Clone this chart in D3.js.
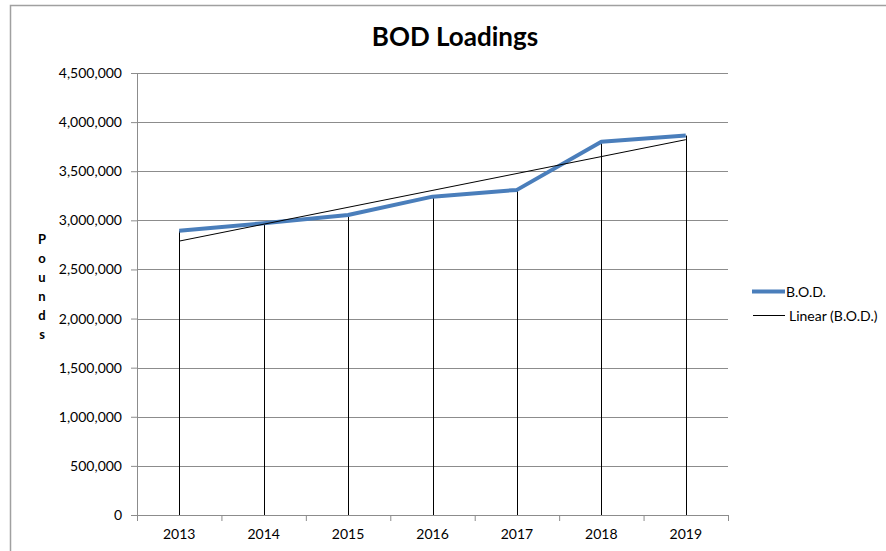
<!DOCTYPE html>
<html>
<head>
<meta charset="utf-8">
<script src="https://cdn.jsdelivr.net/npm/d3@7"></script>
<style>
  body { margin: 0; background: #fff; }
  svg text { font-family: Lato, "Open Sans", sans-serif; }
</style>
</head>
<body>
<div id="graph"></div>
<script>
// chart data
let years = ["2013", "2014", "2015", "2016", "2017", "2018", "2019"];
let bodValues = [2895000, 2970000, 3055000, 3241000, 3310000, 3800000, 3863000];
let yTicks = [0, 500000, 1000000, 1500000, 2000000, 2500000, 3000000, 3500000, 4000000, 4500000];
let seriesName = "B.O.D.";
let trendName = "Linear (B.O.D.)";

let margin = { top: 73, left: 137 },
  width = 728 - 137,
  height = 515 - 73;

let svg = d3
  .select("#graph")
  .append("svg")
  .attr("width", 886)
  .attr("height", 551);

// outer chart frame (right/bottom edges fall outside the window)
svg
  .append("rect")
  .attr("x", 10.5)
  .attr("y", 5.5)
  .attr("width", 1000)
  .attr("height", 1000)
  .attr("fill", "none")
  .attr("stroke", "#a0a0a0")
  .attr("stroke-width", 1.5);

// title
svg
  .append("text")
  .attr("x", 455)
  .attr("y", 46)
  .attr("text-anchor", "middle")
  .style("font-size", "26px")
  .style("font-weight", "bold")
  .text("BOD Loadings");

let g = svg
  .append("g")
  .attr("transform", "translate(" + margin.left + "," + margin.top + ")");

let x = d3.scaleBand().domain(years).range([0, width]);
let y = d3.scaleLinear().domain([0, 4500000]).range([height, 0]);

// gridlines
g.append("g")
  .selectAll("line")
  .data(yTicks.slice(1))
  .enter()
  .append("line")
  .attr("x1", 0)
  .attr("x2", width)
  .attr("y1", (d) => Math.round(y(d)) + 0.5)
  .attr("y2", (d) => Math.round(y(d)) + 0.5)
  .attr("stroke", "#8c8c8c")
  .attr("stroke-width", 1);

// y axis
let yAxis = g
  .append("g")
  .call(d3.axisLeft(y).tickValues(yTicks).tickSize(6).tickFormat(d3.format(",")));
yAxis.selectAll("path, line").attr("stroke", "#8c8c8c");
yAxis
  .selectAll("text")
  .attr("x", -15)
  .style("font-size", "14px")
  .style("fill", "#000");

// x axis, ticks on category boundaries
let xAxis = g
  .append("g")
  .attr("transform", "translate(0," + height + ")")
  .call(d3.axisBottom(x).tickSize(0));
xAxis.select(".domain").attr("stroke", "#8c8c8c");
xAxis.selectAll("text").attr("dy", "1.5em").style("font-size", "14px").style("fill", "#000");
xAxis
  .append("g")
  .selectAll("line")
  .data(years.concat([null]))
  .enter()
  .append("line")
  .attr("x1", (d, i) => i * x.bandwidth() + 0.5)
  .attr("x2", (d, i) => i * x.bandwidth() + 0.5)
  .attr("y1", 0)
  .attr("y2", 6)
  .attr("stroke", "#8c8c8c");

let cx = (d) => x(d) + x.bandwidth() / 2;

// drop lines
g.append("g")
  .selectAll("line")
  .data(years)
  .enter()
  .append("line")
  .attr("x1", (d) => Math.round(cx(d)) + 0.5)
  .attr("x2", (d) => Math.round(cx(d)) + 0.5)
  .attr("y1", (d, i) => y(bodValues[i]))
  .attr("y2", height)
  .attr("stroke", "#000")
  .attr("stroke-width", 1);

// series line
let line = d3
  .line()
  .x((d, i) => cx(years[i]))
  .y((d) => y(d));
g.append("path")
  .datum(bodValues)
  .attr("d", line)
  .attr("fill", "none")
  .attr("stroke", "#4a7ebb")
  .attr("stroke-width", 4)
  .attr("stroke-linejoin", "round");

// linear trendline (least squares over category index)
let n = bodValues.length;
let xs = d3.range(1, n + 1);
let mx = d3.mean(xs),
  my = d3.mean(bodValues);
let slope =
  d3.sum(xs, (v, i) => (v - mx) * (bodValues[i] - my)) /
  d3.sum(xs, (v) => (v - mx) * (v - mx));
let icpt = my - slope * mx;
g.append("line")
  .attr("x1", cx(years[0]))
  .attr("y1", y(icpt + slope * 1))
  .attr("x2", cx(years[n - 1]))
  .attr("y2", y(icpt + slope * n))
  .attr("stroke", "#000")
  .attr("stroke-width", 1);

// y axis title, letters stacked
let letters = "Pounds".split("");
svg
  .append("g")
  .selectAll("text")
  .data(letters)
  .enter()
  .append("text")
  .attr("x", 42)
  .attr("y", (d, i) => 244 + i * 19)
  .attr("text-anchor", "middle")
  .style("font-size", "13px")
  .style("font-weight", "bold")
  .text((d) => d);

// legend
let legend = svg.append("g");
legend
  .append("line")
  .attr("x1", 752)
  .attr("x2", 785)
  .attr("y1", 291.5)
  .attr("y2", 291.5)
  .attr("stroke", "#4a7ebb")
  .attr("stroke-width", 4);
legend
  .append("text")
  .attr("x", 786)
  .attr("y", 296.5)
  .style("font-size", "14px")
  .text(seriesName);
legend
  .append("line")
  .attr("x1", 753)
  .attr("x2", 785)
  .attr("y1", 315.5)
  .attr("y2", 315.5)
  .attr("stroke", "#000")
  .attr("stroke-width", 1);
legend
  .append("text")
  .attr("x", 789)
  .attr("y", 320.5)
  .style("font-size", "14px")
  .text(trendName);
</script>
</body>
</html>
